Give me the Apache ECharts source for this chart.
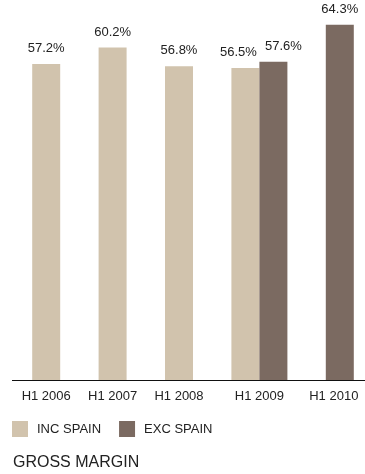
<!DOCTYPE html>
<html>
<head>
<meta charset="utf-8">
<script src="https://cdn.jsdelivr.net/npm/echarts@6/dist/echarts.min.js"></script>
<style>
  html, body { margin: 0; padding: 0; background: #fff; }
  #chart { width: 365px; height: 474px; }
</style>
</head>
<body>
<div id="chart"></div>
<script>
// Half-year gross margin, including and excluding Spain (%)
const categories = ['H1 2006', 'H1 2007', 'H1 2008', 'H1 2009', 'H1 2010'];
const incSpain = [57.2, 60.2, 56.8, 56.5, null];
const excSpain = [null, null, null, 57.6, 64.3];
const seriesNames = ['INC SPAIN', 'EXC SPAIN'];
const chartTitle = 'GROSS MARGIN';

const INC_COLOR = '#d1c3ad';
const EXC_COLOR = '#7b6a61';
const TEXT_COLOR = '#222';
const BAR_W = 28;
const FONT = 'Liberation Sans, Arial, sans-serif';

// Category label sits under whichever bars are actually present
function labelShift(i) {
  const hasInc = incSpain[i] != null, hasExc = excSpain[i] != null;
  if (hasInc && !hasExc) return -BAR_W / 2;
  if (!hasInc && hasExc) return BAR_W / 2 - 6;
  return 0;
}

const rich = {};
categories.forEach((c, i) => {
  const s = labelShift(i);
  rich['c' + i] = {
    fontSize: 13, fontFamily: FONT, color: TEXT_COLOR,
    padding: s < 0 ? [0, -2 * s, 0, 0] : [0, 0, 0, 2 * s]
  };
});

// When both bars share a category, spread their value labels apart
function withLabels(values, other, dx) {
  return values.map((v, i) => {
    if (v == null) return null;
    if (other[i] != null) return { value: v, label: { offset: [dx, 0] } };
    return v;
  });
}

const valueLabel = {
  show: true,
  position: 'top',
  distance: 9,
  fontSize: 13,
  fontFamily: FONT,
  color: TEXT_COLOR,
  formatter: p => p.value.toFixed(1) + '%'
};

const chart = echarts.init(document.getElementById('chart'), null, { renderer: 'canvas' });

const GRID_BOTTOM = 94;

chart.setOption({
  animation: false,
  backgroundColor: '#fff',
  title: {
    text: chartTitle,
    left: 13,
    top: 455,
    padding: 0,
    textStyle: { fontSize: 16, fontWeight: 'normal', fontFamily: FONT, color: TEXT_COLOR }
  },
  legend: {
    left: 12,
    top: 421,
    padding: 0,
    itemWidth: 16,
    itemHeight: 16,
    itemGap: 18,
    icon: 'rect',
    data: seriesNames,
    textStyle: { fontSize: 13, fontFamily: FONT, color: TEXT_COLOR, padding: [0, 0, 0, 4] }
  },
  grid: { left: 27, right: 6, top: 21, bottom: GRID_BOTTOM, containLabel: false },
  xAxis: {
    type: 'category',
    data: categories,
    axisLine: { show: false },
    axisTick: { show: false },
    splitLine: { show: false },
    axisLabel: {
      margin: 10,
      interval: 0,
      formatter: (v, i) => '{c' + i + '|' + v + '}',
      rich: rich
    }
  },
  yAxis: {
    type: 'value',
    min: 0,
    max: 65,
    show: false,
    splitLine: { show: false }
  },
  series: [
    {
      name: seriesNames[0],
      type: 'bar',
      barWidth: BAR_W,
      barGap: '0%',
      itemStyle: { color: INC_COLOR },
      label: valueLabel,
      data: withLabels(incSpain, excSpain, -7)
    },
    {
      name: seriesNames[1],
      type: 'bar',
      barWidth: BAR_W,
      barGap: '0%',
      itemStyle: { color: EXC_COLOR },
      label: valueLabel,
      data: withLabels(excSpain, incSpain, 10)
    }
  ],
  // Baseline running the full width under the bars
  graphic: [{
    type: 'line',
    shape: { x1: 12, y1: 474 - GRID_BOTTOM + 0.5, x2: 365, y2: 474 - GRID_BOTTOM + 0.5 },
    style: { stroke: '#111', lineWidth: 1 },
    z: 10
  }]
});
</script>
</body>
</html>
